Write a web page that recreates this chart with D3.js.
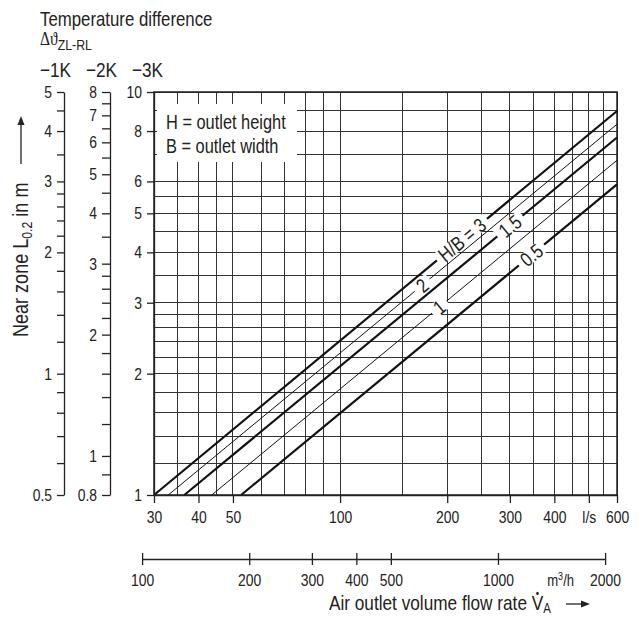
<!DOCTYPE html>
<html>
<head>
<meta charset="utf-8">
<script src="https://cdn.jsdelivr.net/npm/d3@7"></script>
<style>
body { margin: 0; background: #fff; }
svg text { font-family: "Liberation Sans", Arial, Helvetica, sans-serif; fill: #222; }
.tick text { font-size: 17px; }
</style>
</head>
<body>
<div id="chart"></div>
<script>
// values
var ratioLabels = ["H/B = 3", "2", "1.5", "1", "0.5"];
var flowAtOneMetre = [30, 32.9, 36.5, 43.6, 52.7];    // l/s where L0.2 = 1 m (-3K scale)
var lengthAtMaxFlow = [8.97, 8.32, 7.71, 6.77, 5.9];  // m at 600 l/s
var labelFlow = [220, 170, 300, 190, 345];            // l/s where each label sits

var gridFlows = [30, 35, 40, 45, 50, 60, 70, 80, 90, 100, 150, 200, 250, 300, 350, 400, 450, 500, 550, 600];
var gridLengths = [1, 1.2, 1.4, 1.6, 1.8, 2, 2.2, 2.4, 2.6, 2.8, 3, 3.5, 4, 4.5, 5, 5.5, 6, 7, 8, 9, 10];
var ticks3K = [1, 2, 3, 4, 5, 6, 8, 10];
var ticks1K = [0.5, 0.6, 0.7, 0.8, 0.9, 1, 1.2, 1.4, 1.6, 1.8, 2, 2.2, 2.4, 2.6, 2.8, 3, 3.5, 4, 4.5, 5];
var labels1K = [0.5, 1, 2, 3, 4, 5];
var ticks2K = [0.8, 0.9, 1, 1.2, 1.4, 1.6, 1.8, 2, 2.2, 2.4, 2.6, 2.8, 3, 3.5, 4, 4.5, 5, 5.5, 6, 6.5, 7, 7.5, 8];
var labels2K = [0.8, 1, 2, 3, 4, 5, 6, 7, 8];
var flowTicks = [30, 40, 50, 100, 200, 300, 400, 500, 600];   // 500 carries the unit
var volumeTicks = [100, 200, 300, 400, 500, 1000, 2000];
var tempDiffs = ["\u22121K", "\u22122K", "\u22123K"];

var W = 642, H = 617;
var plot = { left: 154, right: 617, top: 92, bottom: 495 };
var narrow = 0.82;   // the original uses a condensed face, squeeze the glyphs

var svg = d3.select("#chart").append("svg").attr("width", W).attr("height", H);

var x = d3.scaleLog().domain([30, 600]).range([plot.left, plot.right]);
var y = d3.scaleLog().domain([1, 10]).range([plot.bottom, plot.top]);
var y1K = d3.scaleLog().domain([0.5, 5]).range([plot.bottom, plot.top]);
var y2K = d3.scaleLog().domain([0.8, 8]).range([plot.bottom, plot.top]);
// m3/h = 3.6 * l/s
var xVol = d3.scaleLog().domain([100, 2000]).range([x(100 / 3.6), x(2000 / 3.6)]);

// grid
var grid = svg.append("g").attr("stroke", "#333").attr("stroke-width", 1).attr("shape-rendering", "crispEdges");
grid.selectAll(".gx").data(gridFlows).join("line")
    .attr("x1", function(d){ return x(d); }).attr("x2", function(d){ return x(d); })
    .attr("y1", plot.top).attr("y2", plot.bottom);
grid.selectAll(".gy").data(gridLengths).join("line")
    .attr("x1", plot.left).attr("x2", plot.right)
    .attr("y1", function(d){ return y(d); }).attr("y2", function(d){ return y(d); });

svg.append("rect")
    .attr("x", plot.left).attr("y", plot.top)
    .attr("width", plot.right - plot.left).attr("height", plot.bottom - plot.top)
    .attr("fill", "none").attr("stroke", "#222").attr("stroke-width", 1.5);

// legend box
svg.append("rect").attr("x", 157).attr("y", 104).attr("width", 140).attr("height", 58).attr("fill", "#fff");
svg.append("text").attr("x", 166).attr("y", 129).attr("font-size", 20).text("H = outlet height");
svg.append("text").attr("x", 166).attr("y", 153).attr("font-size", 20).text("B = outlet width");

// H/B lines (straight in log-log)
var line = d3.line().x(function(d){ return x(d[0]); }).y(function(d){ return y(d[1]); });
var series = ratioLabels.map(function(lab, i){
    return { label: lab, i: i, pts: [[flowAtOneMetre[i], 1], [600, lengthAtMaxFlow[i]]] };
});
svg.append("g").selectAll("path").data(series).join("path")
    .attr("d", function(d){ return line(d.pts); })
    .attr("fill", "none").attr("stroke", "#111")
    .attr("stroke-width", function(d){ return d.i % 2 ? 1 : 2.2; });

series.forEach(function(s){
    var p0 = s.pts[0], p1 = s.pts[1];
    var k = Math.log(p1[1] / p0[1]) / Math.log(p1[0] / p0[0]);
    var L = p0[1] * Math.pow(labelFlow[s.i] / p0[0], k);
    var ang = Math.atan2(y(p1[1]) - y(p0[1]), x(p1[0]) - x(p0[0])) * 180 / Math.PI;
    var g = svg.append("g").attr("transform", "translate(" + x(labelFlow[s.i]) + "," + y(L) + ") rotate(" + ang + ")");
    var t = g.append("text").attr("text-anchor", "middle").attr("dy", "0.36em").attr("font-size", 20).text(s.label);
    var bb = t.node().getBBox();
    var w = bb.width * narrow;
    g.insert("rect", "text").attr("x", -w / 2 - 5).attr("y", -7).attr("width", w + 10).attr("height", 14).attr("fill", "#fff");
});

// left axes
function styleAxis(g){
    g.attr("font-family", null).attr("font-size", null);
    g.selectAll("path, line").attr("stroke", "#222").attr("stroke-width", 1.3);
}
svg.append("g").attr("transform", "translate(64,0)")
    .call(d3.axisLeft(y1K).tickValues(ticks1K).tickSize(7).tickSizeOuter(0).tickPadding(5)
        .tickFormat(function(d){ return labels1K.indexOf(d) >= 0 ? String(d) : ""; }))
    .call(styleAxis);
svg.append("g").attr("transform", "translate(110,0)")
    .call(d3.axisLeft(y2K).tickValues(ticks2K).tickSize(8).tickSizeOuter(0).tickPadding(5)
        .tickFormat(function(d){ return labels2K.indexOf(d) >= 0 ? String(d) : ""; }))
    .call(styleAxis);
svg.append("g").attr("transform", "translate(" + plot.left + ",0)")
    .call(d3.axisLeft(y).tickValues(ticks3K).tickSize(7).tickSizeOuter(0).tickPadding(5).tickFormat(String))
    .call(styleAxis);

// bottom axes
svg.append("g").attr("transform", "translate(0," + plot.bottom + ")")
    .call(d3.axisBottom(x).tickValues(flowTicks).tickSize(8).tickSizeOuter(0).tickPadding(8)
        .tickFormat(function(d){ return d === 500 ? "l/s" : String(d); }))
    .call(styleAxis);
var volAxis = svg.append("g").attr("transform", "translate(0,559)")
    .call(d3.axisBottom(xVol).tickValues(volumeTicks).tickSize(6).tickSizeOuter(0).tickPadding(9).tickFormat(String))
    .call(styleAxis);
volAxis.selectAll(".tick line").attr("y1", -6);
var vu = volAxis.append("text").attr("x", xVol(1500)).attr("y", 27).attr("text-anchor", "middle").attr("font-size", 16);
vu.append("tspan").text("m");
vu.append("tspan").attr("font-size", 11).attr("dy", -6).text("3");
vu.append("tspan").attr("dy", 6).text("/h");

// arrows
function arrow(x1, y1, x2, y2){
    var a = Math.atan2(y2 - y1, x2 - x1), h = 9, w = 3.5;
    var bx = x2 - Math.cos(a) * h, by = y2 - Math.sin(a) * h;
    svg.append("line").attr("x1", x1).attr("y1", y1).attr("x2", bx).attr("y2", by)
        .attr("stroke", "#222").attr("stroke-width", 1.3);
    svg.append("path").attr("fill", "#222")
        .attr("d", "M" + x2 + "," + y2 + "L" + (bx - Math.sin(a) * w) + "," + (by + Math.cos(a) * w) +
            "L" + (bx + Math.sin(a) * w) + "," + (by - Math.cos(a) * w) + "Z");
}

// titles
var xt = svg.append("text").attr("x", 329).attr("y", 610).attr("font-size", 21);
xt.append("tspan").text("Air outlet volume flow rate V");
xt.append("tspan").attr("font-size", 14).attr("dy", 3).text("A");
arrow(566, 604, 590, 604);

var yt = svg.append("text").attr("transform", "translate(28,337) rotate(-90)").attr("font-size", 22);
yt.append("tspan").text("Near zone L");
yt.append("tspan").attr("font-size", 15).attr("dy", 4).text("0.2");
yt.append("tspan").attr("dy", -4).text(" in m");
arrow(21, 164, 21, 116);

var ht = svg.append("g");
ht.append("text").attr("x", 40).attr("y", 26).attr("font-size", 20.5).text("Temperature difference");
var dt = ht.append("text").attr("x", 40).attr("y", 45);
dt.append("tspan").attr("font-size", 19).style("font-family", "'Liberation Serif', 'DejaVu Serif', serif").text("\u0394\u03d1");
dt.append("tspan").attr("font-size", 15).attr("dy", 5).text("ZL-RL");
ht.selectAll(".td").data(tempDiffs).join("text")
    .attr("x", function(d, i){ return [40, 86, 132][i]; }).attr("y", 77).attr("font-size", 21)
    .text(function(d){ return d; });

// squeeze every text horizontally about its anchor
svg.selectAll("text").each(function(){
    var t = d3.select(this);
    var tr = t.attr("transform") || "";
    var x0 = +t.attr("x") || 0;
    t.attr("transform", tr + " translate(" + x0 + ",0) scale(" + narrow + ",1) translate(" + (-x0) + ",0)");
});

// the dot over V
var vExt = xt.node().getExtentOfChar(28);
svg.append("circle").attr("transform", xt.attr("transform"))
    .attr("cx", vExt.x + vExt.width / 2).attr("cy", vExt.y + 2).attr("r", 1.6).attr("fill", "#222");
</script>
</body>
</html>
